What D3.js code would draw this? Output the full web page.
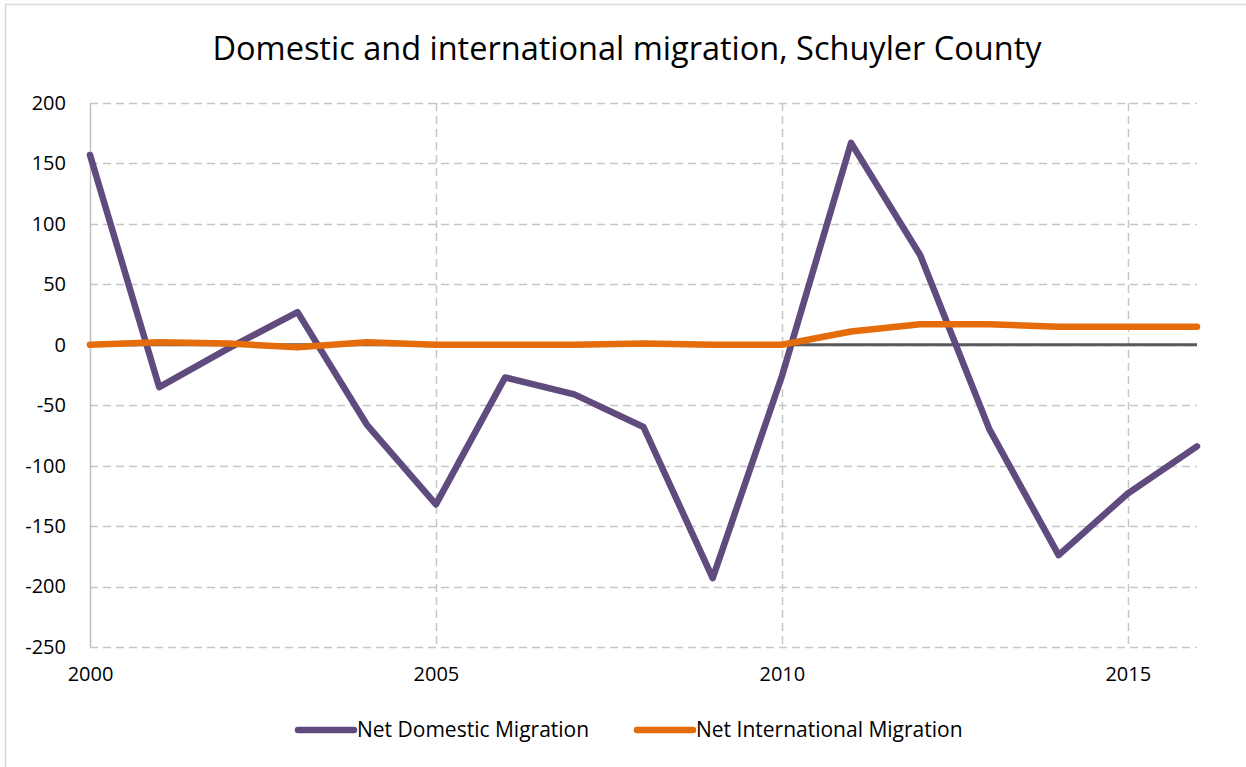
<!DOCTYPE html>
<html>
<head>
  <meta charset="utf-8">
  <title>Domestic and international migration, Schuyler County</title>
  <style>
    body { margin: 0; background: #fff; }
    text { font-family: "Open Sans", sans-serif; fill: #000; }
  </style>
</head>
<body>
  <script src="https://d3js.org/d3.v7.min.js"></script>
  <script>
    // Values
    var years = [2000, 2001, 2002, 2003, 2004, 2005, 2006, 2007, 2008, 2009, 2010, 2011, 2012, 2013, 2014, 2015, 2016];
    var domestic = [157, -35, -3, 27, -66, -132, -27, -41, -68, -193, -26, 167, 74, -70, -174, -123, -84];
    var international = [0, 2, 1, -2, 2, 0, 0, 0, 1, 0, 0, 11, 17, 17, 15, 15, 15];
    var yTicks = [200, 150, 100, 50, 0, -50, -100, -150, -200, -250];
    var xTicks = [2000, 2005, 2010, 2015];
    var seriesNames = ["Net Domestic Migration", "Net International Migration"];
    var seriesColors = ["#5f4b7e", "#e46c0a"];

    var W = 1246, H = 767;
    var margin = { top: 103, right: 49, bottom: 120, left: 90 },
      width = W - margin.left - margin.right,
      height = H - margin.top - margin.bottom;

    var svg = d3.select("body")
      .append("svg")
      .attr("width", W)
      .attr("height", H);

    // chart border
    svg.append("rect")
      .attr("x", 5.5).attr("y", 4.5)
      .attr("width", 1250).attr("height", 780)
      .attr("fill", "#fff")
      .attr("stroke", "#d9d9d9")
      .attr("stroke-width", 1.5);

    svg.append("text")
      .attr("x", 627)
      .attr("y", 60)
      .attr("text-anchor", "middle")
      .style("font-size", "32.5px")
      .text("Domestic and international migration, Schuyler County");

    var g = svg.append("g")
      .attr("transform", "translate(" + margin.left + "," + margin.top + ")");

    var x = d3.scaleLinear().domain([2000, 2016]).range([0, width]);
    var y = d3.scaleLinear().domain([-250, 200]).range([height, 0]);

    // horizontal gridlines
    g.append("g")
      .selectAll("line")
      .data(yTicks)
      .enter().append("line")
      .attr("x1", 0).attr("x2", width)
      .attr("y1", function (d) { return Math.round(y(d)) + 0.5; })
      .attr("y2", function (d) { return Math.round(y(d)) + 0.5; })
      .attr("stroke", "#c6c6c6")
      .attr("stroke-width", 1.5)
      .attr("stroke-dasharray", "8,5");

    // vertical gridlines
    g.append("g")
      .selectAll("line")
      .data(xTicks.slice(1))
      .enter().append("line")
      .attr("x1", function (d) { return Math.round(x(d)) + 0.5; })
      .attr("x2", function (d) { return Math.round(x(d)) + 0.5; })
      .attr("y1", 0).attr("y2", height)
      .attr("stroke", "#c6c6c6")
      .attr("stroke-width", 1.5)
      .attr("stroke-dasharray", "8,5");

    // left axis line
    g.append("line")
      .attr("x1", 0.5).attr("x2", 0.5)
      .attr("y1", 0).attr("y2", height)
      .attr("stroke", "#bfbfbf")
      .attr("stroke-width", 1.5);

    // y axis labels (plain hyphen for negatives, as in the original)
    var yAxis = g.append("g")
      .call(d3.axisLeft(y).tickValues(yTicks).tickFormat(function (d) { return String(d); }).tickSize(0).tickPadding(24));
    yAxis.select(".domain").remove();
    yAxis.selectAll("text").style("font-size", "20px").style("font-family", "Open Sans, sans-serif").attr("fill", "#000");

    // x axis labels
    var xAxis = g.append("g")
      .attr("transform", "translate(0," + height + ")")
      .call(d3.axisBottom(x).tickValues(xTicks).tickFormat(d3.format("d")).tickSize(0).tickPadding(20));
    xAxis.select(".domain").remove();
    xAxis.selectAll("text").style("font-size", "20px").style("font-family", "Open Sans, sans-serif").attr("fill", "#000");

    // zero line
    g.append("line")
      .attr("x1", 0).attr("x2", width)
      .attr("y1", y(0)).attr("y2", y(0))
      .attr("stroke", "#595959")
      .attr("stroke-width", 3);

    var line = d3.line()
      .x(function (d) { return x(d[0]); })
      .y(function (d) { return y(d[1]); });

    var series = [domestic, international];
    series.forEach(function (vals, i) {
      g.append("path")
        .datum(years.map(function (yr, j) { return [yr, vals[j]]; }))
        .attr("fill", "none")
        .attr("stroke", seriesColors[i])
        .attr("stroke-width", 6.5)
        .attr("stroke-linejoin", "round")
        .attr("stroke-linecap", "round")
        .attr("d", line);
    });

    // legend
    var legendX = [298, 637];
    var legend = svg.append("g");
    seriesNames.forEach(function (name, i) {
      legend.append("line")
        .attr("x1", legendX[i]).attr("x2", legendX[i] + 56)
        .attr("y1", 730).attr("y2", 730)
        .attr("stroke", seriesColors[i])
        .attr("stroke-width", 6.5)
        .attr("stroke-linecap", "round");
      legend.append("text")
        .attr("x", legendX[i] + 59)
        .attr("y", 737)
        .style("font-size", "21px")
        .text(name);
    });
  </script>
</body>
</html>
